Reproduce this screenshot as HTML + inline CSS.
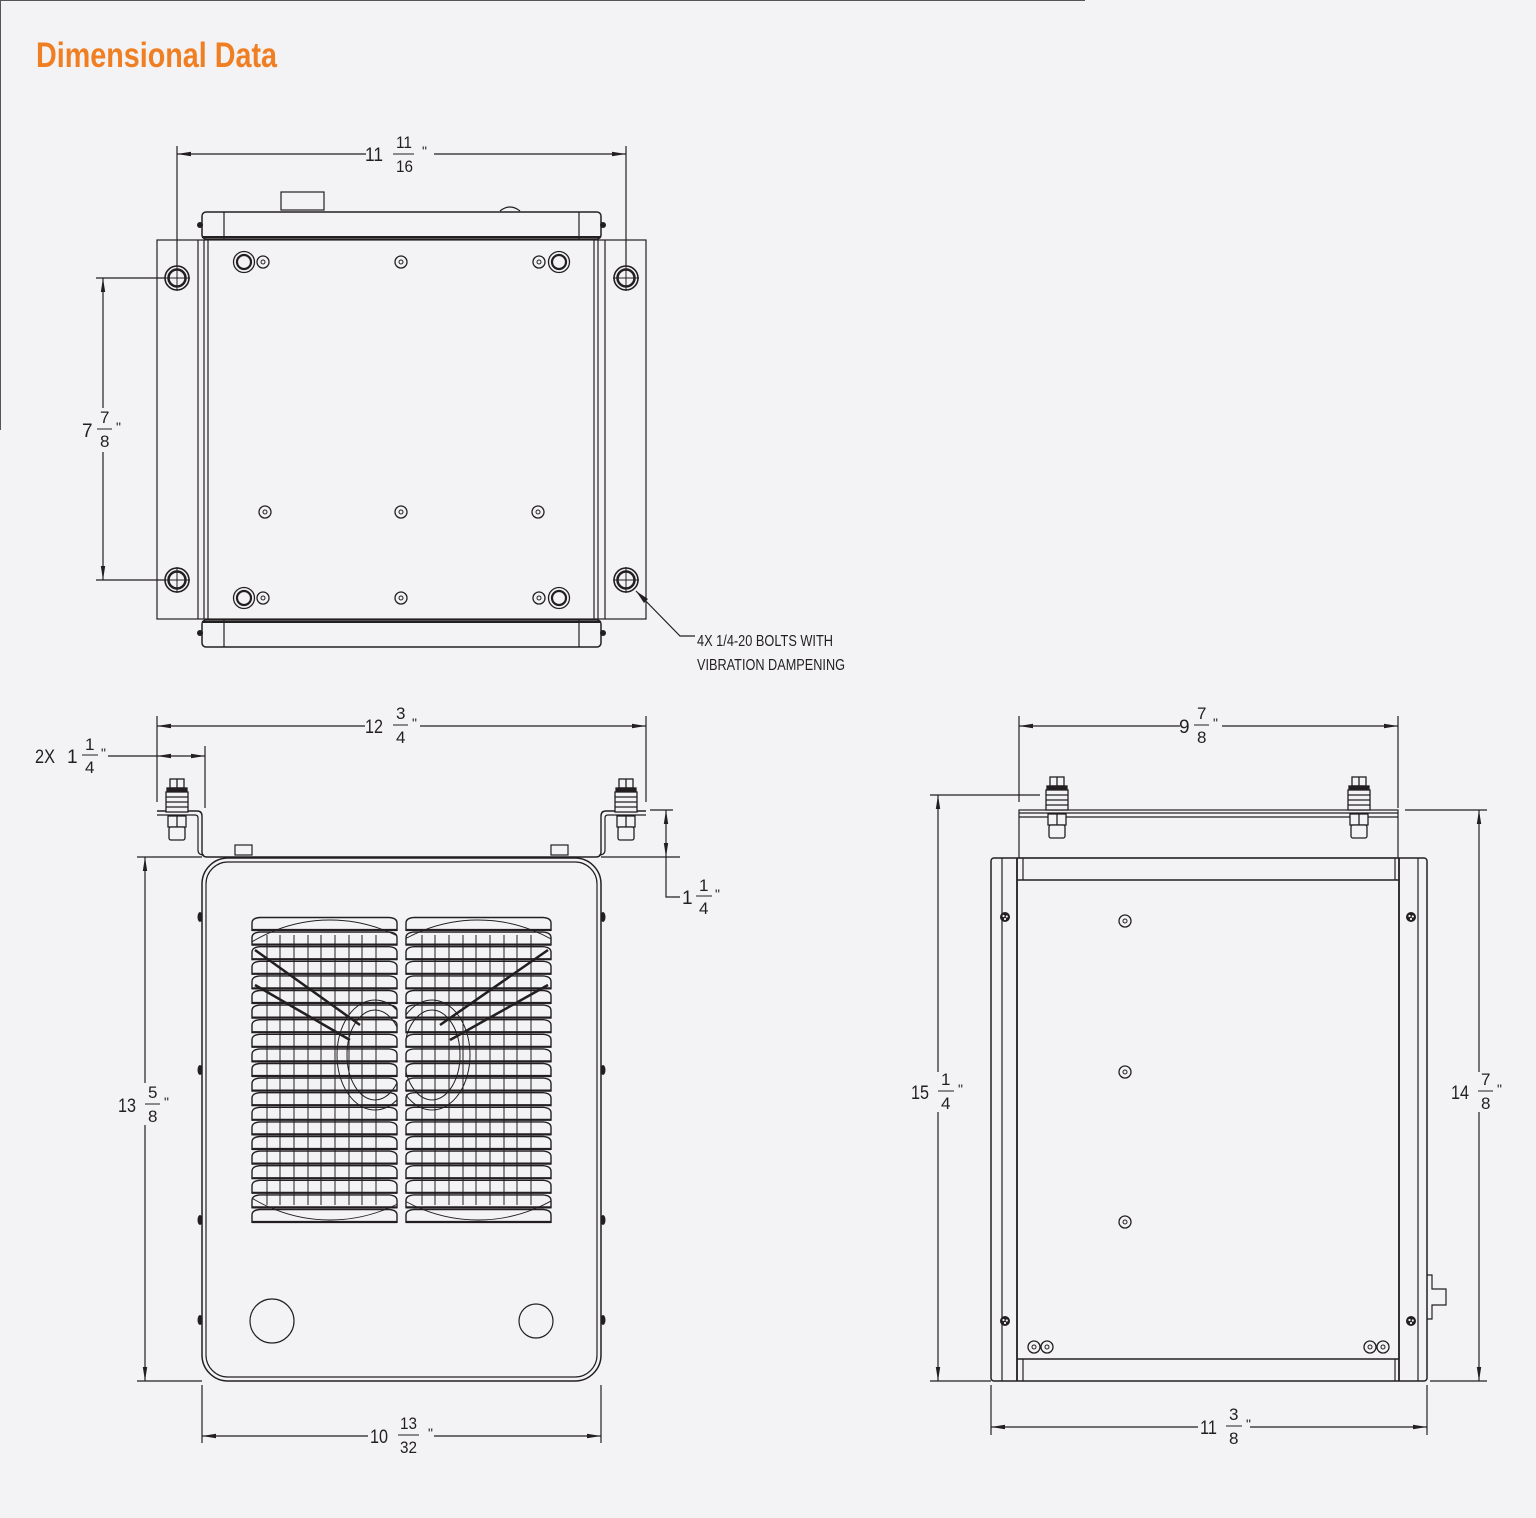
<!DOCTYPE html>
<html><head><meta charset="utf-8"><style>
html,body{margin:0;padding:0;background:#f3f3f5;}
svg{display:block}
text{font-family:"Liberation Sans Narrow","Liberation Sans",sans-serif;fill:#231f20}
</style></head><body>
<svg width="1536" height="1518" viewBox="0 0 1536 1518" xmlns="http://www.w3.org/2000/svg">
<defs>
<marker id="ae" viewBox="0 0 14 6" refX="14" refY="3" markerWidth="14" markerHeight="6" markerUnits="userSpaceOnUse" orient="auto"><path d="M0,0.8 L14,3 L0,5.2 Z" fill="#231f20"/></marker>
<marker id="as" viewBox="0 0 14 6" refX="0" refY="3" markerWidth="14" markerHeight="6" markerUnits="userSpaceOnUse" orient="auto"><path d="M14,0.8 L0,3 L14,5.2 Z" fill="#231f20"/></marker>
<clipPath id="cl"><rect x="252" y="917" width="145" height="306"/></clipPath>
<clipPath id="cr"><rect x="406" y="917" width="145" height="306"/></clipPath>
<g id="slat"><path d="M0,14 V6 Q0,1 8,0.5 H137 Q145,1 145,6 V14" fill="none" stroke="#231f20" stroke-width="1.4"/><line x1="0" y1="13" x2="145" y2="13" stroke="#231f20" stroke-width="2.2"/></g>
<g id="bolt" fill="#f3f3f5" stroke="#231f20" stroke-width="1.3">
<rect x="-7" y="0" width="14" height="9"/><line x1="0" y1="0" x2="0" y2="9"/>
<rect x="-10" y="9" width="20" height="3" fill="#231f20"/>
<rect x="-11" y="13" width="22" height="20"/><line x1="-11" y1="18" x2="11" y2="18"/><line x1="-11" y1="23" x2="11" y2="23"/><line x1="-11" y1="28" x2="11" y2="28"/>
<rect x="-9" y="37" width="18" height="11"/><line x1="0" y1="37" x2="0" y2="61"/>
<rect x="-8" y="48" width="16" height="13" rx="2"/>
</g>
<g id="tb"><circle r="12" fill="none" stroke="#231f20" stroke-width="1.6"/><circle r="8.5" fill="none" stroke="#231f20" stroke-width="2.5"/><line x1="-13" y1="0" x2="13" y2="0" stroke="#231f20" stroke-width="1"/><line x1="0" y1="-13" x2="0" y2="13" stroke="#231f20" stroke-width="1"/></g>
<g id="sh"><circle r="6" fill="none" stroke="#231f20" stroke-width="1.3"/><circle r="2" fill="none" stroke="#231f20" stroke-width="1"/></g>
<g id="lh"><circle r="10.5" fill="none" stroke="#231f20" stroke-width="1.3"/><circle r="7" fill="none" stroke="#231f20" stroke-width="2.2"/></g>
<g id="scr"><circle r="5" fill="#231f20"/><circle cx="-1.5" cy="-1" r="1.1" fill="#f3f3f5"/><circle cx="1.8" cy="-0.5" r="1.1" fill="#f3f3f5"/><circle cx="0" cy="2" r="1.1" fill="#f3f3f5"/></g>
</defs>

<line x1="0" y1="0.5" x2="1085" y2="0.5" stroke="#555" stroke-width="1"/>
<line x1="0.5" y1="0" x2="0.5" y2="430" stroke="#555" stroke-width="1"/>
<text x="36" y="67" textLength="241" lengthAdjust="spacingAndGlyphs" style="font-size:35px;font-weight:bold;fill:#f07f24">Dimensional Data</text>

<g stroke="#231f20" stroke-width="1.2" fill="none">
<line x1="177" y1="146" x2="177" y2="266"/><line x1="626" y1="146" x2="626" y2="266"/>
<line x1="177" y1="154" x2="366" y2="154" marker-start="url(#as)"/>
<line x1="434" y1="154" x2="626" y2="154" marker-end="url(#ae)"/>
<rect x="281" y="192" width="43" height="18"/>
<path d="M500,211 Q510,203 520,211"/>
<rect x="202" y="212" width="399" height="27" rx="4" stroke-width="1.5"/>
<line x1="224" y1="212" x2="224" y2="239"/><line x1="579" y1="212" x2="579" y2="239"/>
<line x1="202" y1="237" x2="601" y2="237" stroke-width="2"/>
<rect x="157" y="240" width="489" height="379"/>
<line x1="198" y1="240" x2="198" y2="619"/><line x1="204" y1="240" x2="204" y2="619"/><line x1="208" y1="240" x2="208" y2="619"/>
<line x1="594" y1="240" x2="594" y2="619"/><line x1="598" y1="240" x2="598" y2="619"/><line x1="605" y1="240" x2="605" y2="619"/>
<rect x="202" y="620" width="399" height="27" rx="4" stroke-width="1.5"/>
<line x1="224" y1="620" x2="224" y2="647"/><line x1="579" y1="620" x2="579" y2="647"/>
<line x1="202" y1="622" x2="601" y2="622" stroke-width="2"/>
<line x1="96" y1="278" x2="165" y2="278"/><line x1="96" y1="580" x2="165" y2="580"/>
<line x1="103" y1="278" x2="103" y2="408" marker-start="url(#as)"/>
<line x1="103" y1="452" x2="103" y2="580" marker-end="url(#ae)"/>
<polyline points="636,591 680,636 695,636" />
</g>
<path d="M636,591 L648,599 L644,603 Z" fill="#231f20"/>
<use href="#tb" x="177" y="278"/><use href="#tb" x="626" y="278"/><use href="#tb" x="177" y="580"/><use href="#tb" x="626" y="580"/>
<use href="#lh" x="244" y="262"/><use href="#sh" x="263" y="262"/><use href="#sh" x="401" y="262"/><use href="#sh" x="539" y="262"/><use href="#lh" x="559" y="262"/>
<use href="#sh" x="265" y="512"/><use href="#sh" x="401" y="512"/><use href="#sh" x="538" y="512"/>
<use href="#lh" x="244" y="598"/><use href="#sh" x="263" y="598"/><use href="#sh" x="401" y="598"/><use href="#sh" x="539" y="598"/><use href="#lh" x="559" y="598"/>
<g fill="#231f20"><circle cx="200" cy="225" r="3"/><circle cx="603" cy="225" r="3"/><circle cx="200" cy="633" r="3"/><circle cx="603" cy="633" r="3"/></g>

<text x="365" y="161" textLength="18" lengthAdjust="spacingAndGlyphs" style="font-size:19px">11</text>
<text x="396" y="148" textLength="16" lengthAdjust="spacingAndGlyphs" style="font-size:17px">11</text><line x1="393" y1="154" x2="414" y2="154" stroke="#231f20"/><text x="396" y="172" textLength="17" lengthAdjust="spacingAndGlyphs" style="font-size:17px">16</text><text x="422" y="156" style="font-size:14px">"</text>
<text x="82" y="437" style="font-size:19px">7</text>
<text x="100" y="423" style="font-size:17px">7</text><line x1="97" y1="429" x2="112" y2="429" stroke="#231f20"/><text x="100" y="447" style="font-size:17px">8</text><text x="116" y="432" style="font-size:14px">"</text>
<text x="697" y="646" textLength="136" lengthAdjust="spacingAndGlyphs" style="font-size:16px">4X 1/4-20 BOLTS WITH</text>
<text x="697" y="670" textLength="148" lengthAdjust="spacingAndGlyphs" style="font-size:16px">VIBRATION DAMPENING</text>

<g stroke="#231f20" stroke-width="1.2" fill="none">
<line x1="157" y1="716" x2="157" y2="802"/><line x1="646" y1="716" x2="646" y2="802"/><line x1="205" y1="746" x2="205" y2="808"/>
<line x1="157" y1="726" x2="365" y2="726" marker-start="url(#as)"/>
<line x1="420" y1="726" x2="646" y2="726" marker-end="url(#ae)"/>
<line x1="108" y1="756" x2="157" y2="756"/>
<line x1="157" y1="756" x2="205" y2="756" marker-start="url(#as)" marker-end="url(#ae)"/>
<path d="M157,811 H197 Q202,811 202,816 V852 Q202,857 207,857 H596 Q601,857 601,852 V816 Q601,811 606,811 H646" stroke-width="1.4"/>
<path d="M157,815 H195 Q198,815 198,818 V850 Q198,855 204,855" />
<path d="M646,815 H608 Q605,815 605,818 V850 Q605,855 599,855"/>
<line x1="137" y1="857" x2="202" y2="857"/><line x1="601" y1="857" x2="680" y2="857"/>
<line x1="650" y1="810" x2="673" y2="810"/>
<line x1="666" y1="810" x2="666" y2="857" marker-start="url(#as)" marker-end="url(#ae)"/>
<polyline points="666,857 666,897 680,897"/>
<rect x="235" y="845" width="17" height="10"/><rect x="551" y="845" width="17" height="10"/>
<rect x="202" y="858" width="399" height="523" rx="26" stroke-width="1.5"/>
<rect x="206" y="862" width="391" height="515" rx="22"/>
<circle cx="272" cy="1321" r="22"/><circle cx="536" cy="1321" r="17"/>
<line x1="145" y1="857" x2="145" y2="1083" marker-start="url(#as)"/>
<line x1="145" y1="1125" x2="145" y2="1381" marker-end="url(#ae)"/>
<line x1="137" y1="1381" x2="202" y2="1381"/>
<line x1="202" y1="1385" x2="202" y2="1443"/><line x1="601" y1="1385" x2="601" y2="1443"/>
<line x1="202" y1="1436" x2="368" y2="1436" marker-start="url(#as)"/>
<line x1="434" y1="1436" x2="601" y2="1436" marker-end="url(#ae)"/>
</g>
<use href="#bolt" x="177" y="779"/><use href="#bolt" x="626" y="779"/>
<g fill="#231f20"><ellipse cx="200" cy="917" rx="2.5" ry="5"/><ellipse cx="603" cy="917" rx="2.5" ry="5"/><ellipse cx="200" cy="1070" rx="2.5" ry="5"/><ellipse cx="603" cy="1070" rx="2.5" ry="5"/><ellipse cx="200" cy="1220" rx="2.5" ry="5"/><ellipse cx="603" cy="1220" rx="2.5" ry="5"/><ellipse cx="200" cy="1320" rx="2.5" ry="5"/><ellipse cx="603" cy="1320" rx="2.5" ry="5"/></g>

<g stroke="#231f20" stroke-width="1" fill="none">
<g id="gridL">
<line x1="267" y1="935" x2="267" y2="1205"/><line x1="280" y1="935" x2="280" y2="1205"/><line x1="294" y1="935" x2="294" y2="1205"/><line x1="308" y1="935" x2="308" y2="1205"/><line x1="321" y1="935" x2="321" y2="1205"/><line x1="335" y1="935" x2="335" y2="1205"/><line x1="349" y1="935" x2="349" y2="1205"/><line x1="362" y1="935" x2="362" y2="1205"/><line x1="376" y1="935" x2="376" y2="1205"/>
</g>
<use href="#gridL" x="155"/>
<g clip-path="url(#cl)"><circle cx="330" cy="1070" r="150" stroke-width="0.9"/><ellipse cx="375" cy="1055" rx="38" ry="55"/><ellipse cx="375" cy="1055" rx="28" ry="45"/></g>
<g clip-path="url(#cr)"><circle cx="478" cy="1070" r="150" stroke-width="0.9"/><ellipse cx="432" cy="1055" rx="38" ry="55"/><ellipse cx="432" cy="1055" rx="28" ry="45"/></g>
<path d="M255,950 L360,1025 M255,985 L350,1040" stroke-width="2.5"/>
<path d="M548,950 L440,1025 M548,985 L450,1040" stroke-width="2.5"/>
</g>
<g>
<use href="#slat" x="252" y="917"/><use href="#slat" x="252" y="931.6"/><use href="#slat" x="252" y="946.2"/><use href="#slat" x="252" y="960.8"/><use href="#slat" x="252" y="975.4"/><use href="#slat" x="252" y="990"/><use href="#slat" x="252" y="1004.6"/><use href="#slat" x="252" y="1019.2"/><use href="#slat" x="252" y="1033.8"/><use href="#slat" x="252" y="1048.4"/><use href="#slat" x="252" y="1063"/><use href="#slat" x="252" y="1077.6"/><use href="#slat" x="252" y="1092.2"/><use href="#slat" x="252" y="1106.8"/><use href="#slat" x="252" y="1121.4"/><use href="#slat" x="252" y="1136"/><use href="#slat" x="252" y="1150.6"/><use href="#slat" x="252" y="1165.2"/><use href="#slat" x="252" y="1179.8"/><use href="#slat" x="252" y="1194.4"/><use href="#slat" x="252" y="1209"/>
<use href="#slat" x="406" y="917"/><use href="#slat" x="406" y="931.6"/><use href="#slat" x="406" y="946.2"/><use href="#slat" x="406" y="960.8"/><use href="#slat" x="406" y="975.4"/><use href="#slat" x="406" y="990"/><use href="#slat" x="406" y="1004.6"/><use href="#slat" x="406" y="1019.2"/><use href="#slat" x="406" y="1033.8"/><use href="#slat" x="406" y="1048.4"/><use href="#slat" x="406" y="1063"/><use href="#slat" x="406" y="1077.6"/><use href="#slat" x="406" y="1092.2"/><use href="#slat" x="406" y="1106.8"/><use href="#slat" x="406" y="1121.4"/><use href="#slat" x="406" y="1136"/><use href="#slat" x="406" y="1150.6"/><use href="#slat" x="406" y="1165.2"/><use href="#slat" x="406" y="1179.8"/><use href="#slat" x="406" y="1194.4"/><use href="#slat" x="406" y="1209"/>
</g>

<text x="365" y="733" textLength="18" lengthAdjust="spacingAndGlyphs" style="font-size:19px">12</text>
<text x="396" y="719" style="font-size:17px">3</text><line x1="393" y1="725" x2="408" y2="725" stroke="#231f20"/><text x="396" y="743" style="font-size:17px">4</text><text x="412" y="728" style="font-size:14px">"</text>
<text x="35" y="763" textLength="20" lengthAdjust="spacingAndGlyphs" style="font-size:19px">2X</text><text x="67" y="763" style="font-size:19px">1</text>
<text x="85" y="750" style="font-size:17px">1</text><line x1="82" y1="755" x2="98" y2="755" stroke="#231f20"/><text x="85" y="773" style="font-size:17px">4</text><text x="101" y="758" style="font-size:14px">"</text>
<text x="682" y="904" style="font-size:19px">1</text>
<text x="699" y="891" style="font-size:17px">1</text><line x1="696" y1="896" x2="712" y2="896" stroke="#231f20"/><text x="699" y="914" style="font-size:17px">4</text><text x="715" y="899" style="font-size:14px">"</text>
<text x="118" y="1112" textLength="18" lengthAdjust="spacingAndGlyphs" style="font-size:19px">13</text>
<text x="148" y="1098" style="font-size:17px">5</text><line x1="145" y1="1104" x2="160" y2="1104" stroke="#231f20"/><text x="148" y="1122" style="font-size:17px">8</text><text x="164" y="1107" style="font-size:14px">"</text>
<text x="370" y="1443" textLength="18" lengthAdjust="spacingAndGlyphs" style="font-size:19px">10</text>
<text x="400" y="1429" textLength="17" lengthAdjust="spacingAndGlyphs" style="font-size:17px">13</text><line x1="398" y1="1435" x2="419" y2="1435" stroke="#231f20"/><text x="400" y="1453" textLength="17" lengthAdjust="spacingAndGlyphs" style="font-size:17px">32</text><text x="428" y="1438" style="font-size:14px">"</text>

<g stroke="#231f20" stroke-width="1.2" fill="none">
<line x1="1019" y1="716" x2="1019" y2="802"/><line x1="1398" y1="716" x2="1398" y2="808"/>
<line x1="1019" y1="726" x2="1180" y2="726" marker-start="url(#as)"/>
<line x1="1222" y1="726" x2="1398" y2="726" marker-end="url(#ae)"/>
<rect x="1019" y="810" width="379" height="48"/>
<line x1="1019" y1="813" x2="1398" y2="813"/><line x1="1019" y1="817" x2="1398" y2="817"/>
<rect x="991" y="858" width="436" height="523" rx="3" stroke-width="1.5"/>
<line x1="1002" y1="858" x2="1002" y2="1381"/><line x1="1017" y1="858" x2="1017" y2="1381" stroke-width="1.8"/><line x1="1023" y1="858" x2="1023" y2="880"/><line x1="1023" y1="1359" x2="1023" y2="1381"/>
<line x1="1395" y1="858" x2="1395" y2="880"/><line x1="1395" y1="1359" x2="1395" y2="1381"/><line x1="1399" y1="858" x2="1399" y2="1381" stroke-width="1.8"/><line x1="1418" y1="858" x2="1418" y2="1381"/>
<line x1="1017" y1="880" x2="1399" y2="880" stroke-width="1.6"/><line x1="1017" y1="1359" x2="1399" y2="1359" stroke-width="1.6"/>
<path d="M1427,1275 H1432 V1289 H1446 V1305 H1432 V1319 H1427"/>
<line x1="930" y1="795" x2="1040" y2="795"/><line x1="930" y1="1381" x2="991" y2="1381"/>
<line x1="938" y1="795" x2="938" y2="1072" marker-start="url(#as)"/>
<line x1="938" y1="1112" x2="938" y2="1381" marker-end="url(#ae)"/>
<line x1="1405" y1="810" x2="1487" y2="810"/><line x1="1430" y1="1381" x2="1487" y2="1381"/>
<line x1="1479" y1="810" x2="1479" y2="1072" marker-start="url(#as)"/>
<line x1="1479" y1="1112" x2="1479" y2="1381" marker-end="url(#ae)"/>
<line x1="991" y1="1385" x2="991" y2="1435"/><line x1="1427" y1="1385" x2="1427" y2="1435"/>
<line x1="991" y1="1427" x2="1198" y2="1427" marker-start="url(#as)"/>
<line x1="1250" y1="1427" x2="1427" y2="1427" marker-end="url(#ae)"/>
</g>
<use href="#bolt" x="1057" y="777"/><use href="#bolt" x="1359" y="777"/>
<use href="#scr" x="1005" y="917"/><use href="#scr" x="1411" y="917"/><use href="#scr" x="1005" y="1321"/><use href="#scr" x="1411" y="1321"/>
<use href="#sh" x="1125" y="921"/><use href="#sh" x="1125" y="1072"/><use href="#sh" x="1125" y="1222"/>
<use href="#sh" x="1034" y="1347"/><use href="#sh" x="1047" y="1347"/><use href="#sh" x="1370" y="1347"/><use href="#sh" x="1383" y="1347"/>

<text x="1179" y="733" style="font-size:19px">9</text>
<text x="1197" y="719" style="font-size:17px">7</text><line x1="1194" y1="725" x2="1209" y2="725" stroke="#231f20"/><text x="1197" y="743" style="font-size:17px">8</text><text x="1213" y="728" style="font-size:14px">"</text>
<text x="911" y="1099" textLength="18" lengthAdjust="spacingAndGlyphs" style="font-size:19px">15</text>
<text x="941" y="1085" style="font-size:17px">1</text><line x1="938" y1="1091" x2="954" y2="1091" stroke="#231f20"/><text x="941" y="1109" style="font-size:17px">4</text><text x="958" y="1094" style="font-size:14px">"</text>
<text x="1451" y="1099" textLength="18" lengthAdjust="spacingAndGlyphs" style="font-size:19px">14</text>
<text x="1481" y="1085" style="font-size:17px">7</text><line x1="1478" y1="1091" x2="1493" y2="1091" stroke="#231f20"/><text x="1481" y="1109" style="font-size:17px">8</text><text x="1497" y="1094" style="font-size:14px">"</text>
<text x="1200" y="1434" textLength="17" lengthAdjust="spacingAndGlyphs" style="font-size:19px">11</text>
<text x="1229" y="1420" style="font-size:17px">3</text><line x1="1226" y1="1426" x2="1242" y2="1426" stroke="#231f20"/><text x="1229" y="1444" style="font-size:17px">8</text><text x="1246" y="1429" style="font-size:14px">"</text>
</svg>
</body></html>
